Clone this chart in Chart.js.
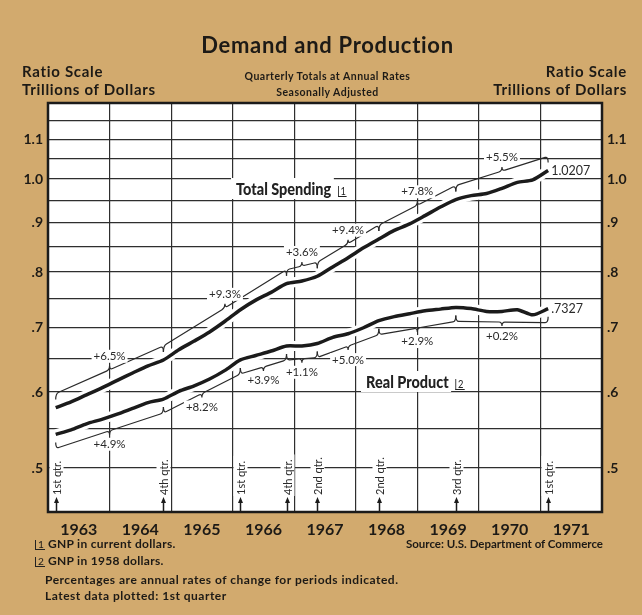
<!DOCTYPE html>
<html>
<head>
<meta charset="utf-8">
<script src="https://cdn.jsdelivr.net/npm/chart.js@4.4.0/dist/chart.umd.min.js"></script>
<style>
  body { margin: 0; background: #d2aa6e; }
  #wrap { position: relative; width: 642px; height: 615px; background: #d2aa6e; font-family: Lato, "Open Sans", sans-serif; color: #1d1a16; overflow: hidden; }
  canvas { position: absolute; left: 0; top: 0; }
  .t { position: absolute; white-space: nowrap; font-weight: 700; }
  .fn { display: inline-block; border-left: 1.3px solid #222; border-bottom: 1.3px solid #222; line-height: 0.9; padding: 0 1px 0 2px; font-size: 0.85em; margin-right: 3px; font-weight: 400; letter-spacing: 0; }
  .lbl { position: absolute; white-space: nowrap; font-family: Lato, sans-serif; font-weight: 900; font-size: 17px; color: #222; transform: scaleX(0.85); transform-origin: left top; }
  .lbl .box { background: #fff; padding: 0 3px 0 6px; }
  .lbl .fn { font-size: 11px; margin-left: 5px; }
</style>
</head>
<body>
<div id="wrap">
  <canvas id="chart" width="642" height="615"></canvas>

  <div class="t" style="left:0;width:655px;top:31px;text-align:center;font-size:22px;letter-spacing:0.7px;">Demand and Production</div>
  <div class="t" style="left:22px;top:62px;font-size:15px;line-height:18px;letter-spacing:0.7px;">Ratio Scale<br>Trillions of Dollars</div>
  <div class="t" style="right:15px;top:62px;font-size:15px;line-height:18px;letter-spacing:0.7px;text-align:right;">Ratio Scale<br>Trillions of Dollars</div>
  <div class="t" style="left:0;width:655px;top:68px;text-align:center;font-size:10.5px;line-height:16px;letter-spacing:0.5px;">Quarterly Totals at Annual Rates<br>Seasonally Adjusted</div>

  <div class="lbl" style="left:231px;top:178px;"><span class="box">Total Spending</span><span class="fn">1</span></div>
  <div class="lbl" style="left:361px;top:371px;"><span class="box">Real Product</span><span class="fn">2</span></div>

  <div class="t" style="left:35px;top:536px;font-size:12px;letter-spacing:0.3px;"><span class="fn">1</span>GNP in current dollars.</div>
  <div class="t" style="left:35px;top:553px;font-size:12px;letter-spacing:0.3px;"><span class="fn">2</span>GNP in 1958 dollars.</div>
  <div class="t" style="left:45px;top:572px;font-size:12px;letter-spacing:0.5px;">Percentages are annual rates of change for periods indicated.</div>
  <div class="t" style="left:45px;top:588px;font-size:12px;letter-spacing:0.5px;">Latest data plotted: 1st quarter</div>
  <div class="t" style="right:39px;top:537px;font-size:11.5px;">Source: U.S. Department of Commerce</div>
</div>

<script>
// Quarterly totals, trillions of dollars
const quarters = [
  '1963Q1', '1963Q2', '1963Q3', '1963Q4',
  '1964Q1', '1964Q2', '1964Q3', '1964Q4',
  '1965Q1', '1965Q2', '1965Q3', '1965Q4',
  '1966Q1', '1966Q2', '1966Q3', '1966Q4',
  '1967Q1', '1967Q2', '1967Q3', '1967Q4',
  '1968Q1', '1968Q2', '1968Q3', '1968Q4',
  '1969Q1', '1969Q2', '1969Q3', '1969Q4',
  '1970Q1', '1970Q2', '1970Q3', '1970Q4',
  '1971Q1'
];

const totalSpending = [
  0.578, 0.586, 0.596, 0.606,
  0.617, 0.628, 0.639, 0.648,
  0.664, 0.678, 0.693, 0.711,
  0.731, 0.748, 0.762, 0.778,
  0.783, 0.792, 0.810, 0.828,
  0.848, 0.866, 0.884, 0.898,
  0.916, 0.935, 0.952, 0.961,
  0.966, 0.978, 0.992, 0.998,
  1.0207
];

const realProduct = [
  0.542, 0.548, 0.556, 0.562,
  0.569, 0.577, 0.585, 0.590,
  0.601, 0.609, 0.619, 0.632,
  0.648, 0.655, 0.662, 0.670,
  0.670, 0.674, 0.684, 0.690,
  0.700, 0.712, 0.719, 0.724,
  0.729, 0.732, 0.735, 0.733,
  0.728, 0.728, 0.731, 0.722,
  0.7327
];

// Annual rates of change for the bracketed periods
const spendingChanges = [
  ['1963Q1', '1964Q4', '+6.5%'],
  ['1964Q4', '1966Q4', '+9.3%'],
  ['1966Q4', '1967Q2', '+3.6%'],
  ['1967Q2', '1968Q2', '+9.4%'],
  ['1968Q2', '1969Q3', '+7.8%'],
  ['1969Q3', '1971Q1', '+5.5%']
];
const realChanges = [
  ['1963Q1', '1964Q4', '+4.9%'],
  ['1964Q4', '1966Q1', '+8.2%'],
  ['1966Q1', '1966Q4', '+3.9%'],
  ['1966Q4', '1967Q2', '+1.1%'],
  ['1967Q2', '1968Q2', '+5.0%'],
  ['1968Q2', '1969Q3', '+2.9%'],
  ['1969Q3', '1971Q1', '+0.2%']
];

const quarterMarks = [
  ['1963Q1', '1st qtr.'], ['1964Q4', '4th qtr.'], ['1966Q1', '1st qtr.'],
  ['1966Q4', '4th qtr.'], ['1967Q2', '2nd qtr.'], ['1968Q2', '2nd qtr.'],
  ['1969Q3', '3rd qtr.'], ['1971Q1', '1st qtr.']
];

const yearTicks = [1963, 1964, 1965, 1966, 1967, 1968, 1969, 1970, 1971, 1972];
const yGrid = [0.50, 0.55, 0.60, 0.65, 0.70, 0.75, 0.80, 0.85, 0.90, 0.95, 1.00, 1.05, 1.10, 1.15, 1.20];
const yLabels = [0.5, 0.6, 0.7, 0.8, 0.9, 1.0, 1.1];

const ink = '#1b1b1b';

// quarter string -> position on the year axis (middle of the quarter)
function qx(q) {
  return Number(q.slice(0, 4)) + (Number(q.slice(5)) - 0.5) / 4;
}
function toPoints(values) {
  return values.map((v, i) => ({ x: qx(quarters[i]), y: v }));
}
function valueAt(series, q) {
  return series[quarters.indexOf(q)];
}
function yLabel(v) {
  const hit = yLabels.find(l => Math.abs(l - v) < 1e-6);
  if (hit === undefined) return '';
  return hit >= 1 ? hit.toFixed(1) : hit.toFixed(1).slice(1);
}

// text with a white knock-out behind it
function knockText(ctx, text, x, y, align, base) {
  const w = ctx.measureText(text).width;
  let left = align === 'center' ? x - w / 2 : x;
  let top = base === 'bottom' ? y - 11 : base === 'top' ? y : y - 6;
  ctx.save();
  ctx.fillStyle = '#fff';
  ctx.fillRect(left - 2, top - 1, w + 4, 13);
  ctx.restore();
  ctx.textAlign = align;
  ctx.textBaseline = base;
  ctx.fillText(text, x, y);
}

// white plot area and frame
const frame = {
  id: 'frame',
  beforeDraw(chart) {
    const a = chart.chartArea, ctx = chart.ctx;
    ctx.save();
    ctx.fillStyle = '#fff';
    ctx.fillRect(a.left, a.top, a.right - a.left, a.bottom - a.top);
    ctx.restore();
  },
  afterDraw(chart) {
    const a = chart.chartArea, ctx = chart.ctx;
    ctx.save();
    ctx.strokeStyle = ink;
    ctx.lineWidth = 2.5;
    ctx.strokeRect(a.left, a.top, a.right - a.left, a.bottom - a.top);
    ctx.restore();
  }
};

// brackets, percentages, end values, quarter arrows
const notes = {
  id: 'notes',
  afterDatasetsDraw(chart) {
    const ctx = chart.ctx, xs = chart.scales.x, ys = chart.scales.y, a = chart.chartArea;

    function brace(series, start, end, text, dir) {
      const d = 14, hook = 6;
      const x0 = xs.getPixelForValue(qx(start)), x1 = xs.getPixelForValue(qx(end));
      const c0 = ys.getPixelForValue(valueAt(series, start));
      const c1 = ys.getPixelForValue(valueAt(series, end));
      const y0 = c0 + dir * d, y1 = c1 + dir * d;
      const xm = (x0 + x1) / 2, ym = (y0 + y1) / 2;
      const k = (y1 - y0) / (x1 - x0);
      ctx.beginPath();
      ctx.moveTo(x0, c0 + dir * (d - hook));
      ctx.quadraticCurveTo(x0, y0, x0 + 3, y0 + k * 3);
      ctx.lineTo(xm - 3, ym - k * 3);
      ctx.quadraticCurveTo(xm, ym, xm, ym + dir * 4);
      ctx.quadraticCurveTo(xm, ym, xm + 3, ym + k * 3);
      ctx.lineTo(x1 - 3, y1 - k * 3);
      ctx.quadraticCurveTo(x1, y1, x1, c1 + dir * (d - hook));
      ctx.stroke();
      if (dir < 0) knockText(ctx, text, xm, ym - 8, 'center', 'bottom');
      else knockText(ctx, text, xm, ym + 8, 'center', 'top');
    }

    ctx.save();
    ctx.strokeStyle = '#2a2a2a';
    ctx.fillStyle = '#2a2a2a';
    ctx.lineWidth = 1.2;
    ctx.font = '11.5px Lato';
    spendingChanges.forEach(c => brace(totalSpending, c[0], c[1], c[2], -1));
    realChanges.forEach(c => brace(realProduct, c[0], c[1], c[2], 1));

    // latest values
    ctx.font = '12.5px Lato';
    const last = quarters[quarters.length - 1];
    const lx = xs.getPixelForValue(qx(last)) + 3;
    knockText(ctx, totalSpending[totalSpending.length - 1].toFixed(4), lx, ys.getPixelForValue(totalSpending[totalSpending.length - 1]), 'left', 'middle');
    knockText(ctx, realProduct[realProduct.length - 1].toFixed(4).slice(1), lx, ys.getPixelForValue(realProduct[realProduct.length - 1]), 'left', 'middle');
    ctx.restore();

    // quarter arrows along the bottom
    ctx.save();
    ctx.font = '11px Lato';
    quarterMarks.forEach(([q, text]) => {
      const x = Math.round(xs.getPixelForValue(qx(q))) + 0.5;
      const b = a.bottom;
      ctx.strokeStyle = ink;
      ctx.fillStyle = ink;
      ctx.lineWidth = 1.5;
      ctx.beginPath();
      ctx.moveTo(x, b);
      ctx.lineTo(x, b - 11);
      ctx.stroke();
      ctx.beginPath();
      ctx.moveTo(x, b - 15);
      ctx.lineTo(x - 2.5, b - 9);
      ctx.lineTo(x + 2.5, b - 9);
      ctx.closePath();
      ctx.fill();
      const w = ctx.measureText(text).width;
      ctx.save();
      ctx.translate(x, b - 17);
      ctx.rotate(-Math.PI / 2);
      ctx.fillStyle = '#fff';
      ctx.fillRect(-1, -7, w + 6, 14);
      ctx.fillStyle = '#2a2a2a';
      ctx.textAlign = 'left';
      ctx.textBaseline = 'middle';
      ctx.fillText(text, 0, 0.5);
      ctx.restore();
    });
    ctx.restore();
  }
};

const yAxis = (position, width, showGrid) => ({
  type: 'logarithmic',
  position: position,
  min: 0.45,
  max: 1.2,
  afterBuildTicks: s => { s.ticks = yGrid.map(v => ({ value: v })); },
  afterFit: s => { s.width = width; },
  border: { display: false },
  grid: { display: showGrid, color: '#2e2e2e', lineWidth: 1.2, drawTicks: false },
  ticks: {
    autoSkip: false,
    padding: 5,
    color: '#1d1a16',
    font: { family: 'Lato', size: 14, weight: 'bold' },
    callback: v => yLabel(v)
  }
});

new Chart(document.getElementById('chart'), {
  type: 'line',
  data: {
    datasets: [
      { label: 'Total Spending', data: toPoints(totalSpending), borderColor: ink, borderWidth: 3.5, pointRadius: 0, tension: 0.25, order: 1 },
      { label: 'Real Product', data: toPoints(realProduct), borderColor: ink, borderWidth: 3.5, pointRadius: 0, tension: 0.25, order: 1 },
      { label: 'halo1', data: toPoints(totalSpending), borderColor: '#fff', borderWidth: 10, pointRadius: 0, tension: 0.25, order: 3 },
      { label: 'halo2', data: toPoints(realProduct), borderColor: '#fff', borderWidth: 10, pointRadius: 0, tension: 0.25, order: 3 }
    ]
  },
  options: {
    responsive: false,
    animation: false,
    devicePixelRatio: 1,
    layout: { padding: { top: 103, left: 0, right: 0, bottom: 0 } },
    plugins: { legend: { display: false }, tooltip: { enabled: false } },
    scales: {
      x: {
        type: 'linear',
        min: 1963,
        max: 1972,
        afterBuildTicks: s => {
          const t = [];
          yearTicks.forEach(y => {
            t.push({ value: y });
            if (y < 1972) t.push({ value: y + 0.5 });
          });
          s.ticks = t;
        },
        afterFit: s => { s.height = 103; },
        border: { display: false },
        grid: {
          color: c => Number.isInteger(c.tick.value) ? '#2e2e2e' : 'rgba(0,0,0,0)',
          lineWidth: 1.2,
          drawTicks: false
        },
        ticks: {
          autoSkip: false,
          maxRotation: 0,
          padding: 8,
          color: '#1d1a16',
          font: { family: 'Lato', size: 16, weight: 'bold' },
          callback: v => Number.isInteger(v) ? '' : String(Math.floor(v))
        }
      },
      y: yAxis('left', 48, true),
      y2: yAxis('right', 40, false)
    }
  },
  plugins: [frame, notes]
});
</script>
</body>
</html>
